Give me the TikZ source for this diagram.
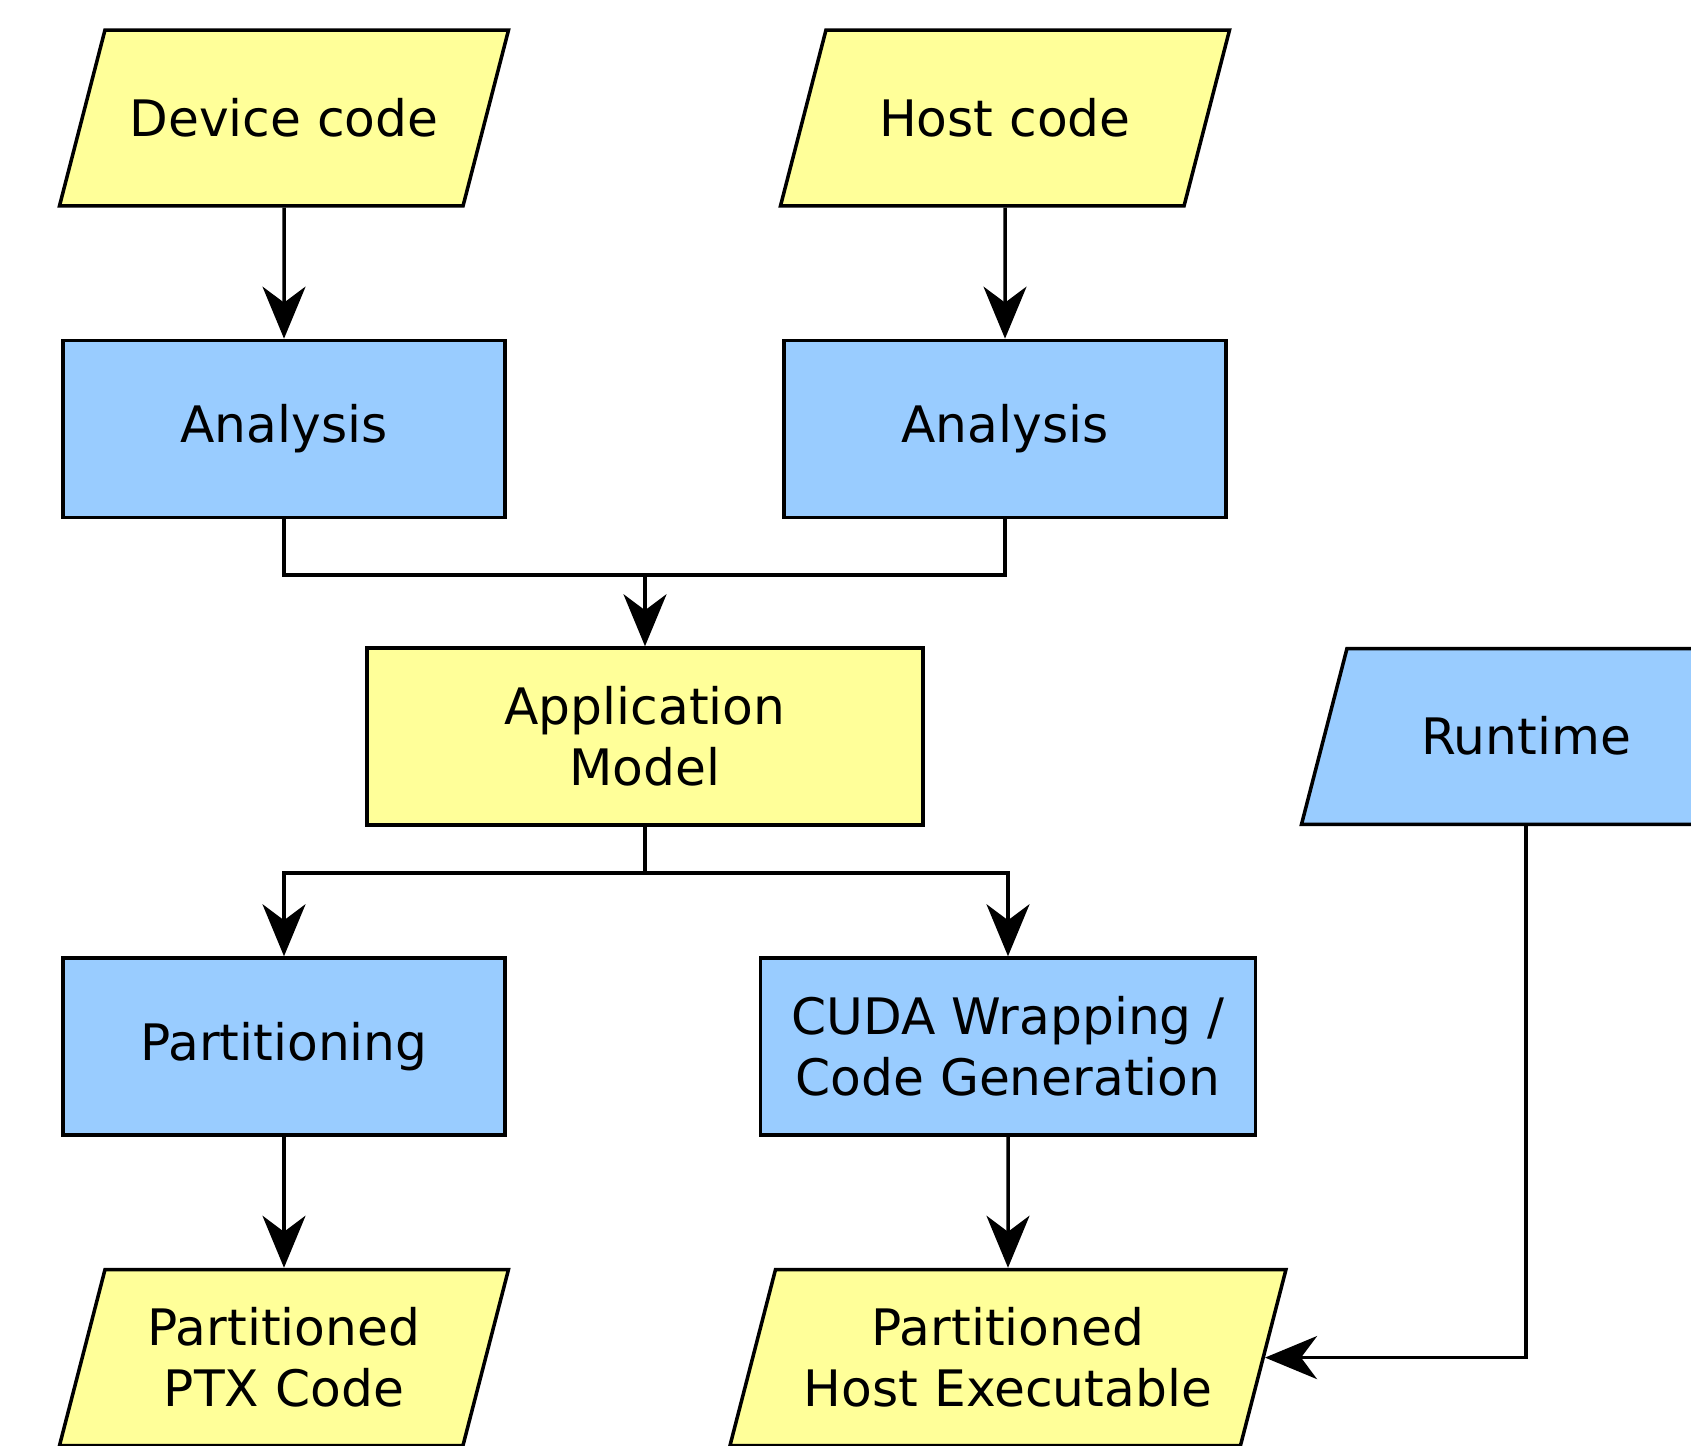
\documentclass[tikz,border=0pt]{standalone}
\usepackage{fontspec}
\setmainfont{DejaVu Sans}
\usepackage{tikz}
\usetikzlibrary{arrows.meta,positioning,shapes.geometric}
\definecolor{datafill}{HTML}{FFFF99}
\definecolor{procfill}{HTML}{99CCFF}
\tikzset{
  boxfont/.style={font=\fontsize{14.3}{17.5}\selectfont},
  datain/.style={trapezium,trapezium left angle=75.5,trapezium right angle=104.5,trapezium stretches body=true,draw=black,line width=1pt,fill=datafill,minimum width=4.49cm,text height=10.4pt,text depth=0pt,inner ysep=19.8pt,inner xsep=2pt,align=center,boxfont},
  twolines/.style={text height=27.9pt,inner ysep=11.1pt},
  procbox/.style={rectangle,draw=black,line width=1pt,fill=procfill,minimum width=4.42cm,minimum height=1.77cm,align=center,inner sep=2pt,boxfont},
  modelbox/.style={procbox,fill=datafill,minimum width=5.56cm},
  link/.style={draw=black,line width=1pt},
  arr/.style={link,-{Stealth[length=5.2mm,width=4.3mm,inset=1.6mm]}},
}
\begin{document}
\begin{tikzpicture}[node distance=1.31cm and 2cm]
  \clip (0,0) rectangle (16.91,-14.46);
  % inputs
  \node[datain] (devcode) at (2.84,-1.18) {Device code};
  \node[datain] (hostcode) at (10.05,-1.18) {Host code};
  \node[procbox,below=of devcode] (devana) {Analysis};
  \node[procbox,below=of hostcode] (hostana) {Analysis};
  \node[modelbox] (appmodel) at (6.45,-7.365) {Application\\Model};
  \node[datain,fill=procfill] (runtime) at (15.26,-7.365) {Runtime};
  % back end
  \node[procbox] (partition) at (2.84,-10.465) {Partitioning};
  \node[procbox,minimum width=4.95cm] (cudagen) at (10.08,-10.465) {CUDA Wrapping /\\Code Generation};
  \node[datain,twolines,below=of partition] (ptxcode) {Partitioned\\PTX Code};
  \node[datain,twolines,minimum width=5.56cm,below=of cudagen] (hostexe) {Partitioned\\Host Executable};
  \coordinate[above=0.71cm of appmodel] (join);
  \coordinate[below=0.46cm of appmodel] (fork);
  \draw[arr] (devcode) -- (devana);
  \draw[arr] (hostcode) -- (hostana);
  \draw[link] (devana.south) |- (join) -| (hostana.south);
  \draw[arr] (join) -- (appmodel);
  \draw[link] (appmodel) -- (fork);
  \draw[arr] (fork) -| (partition.north);
  \draw[arr] (fork) -| (cudagen.north);
  \draw[arr] (partition) -- (ptxcode);
  \draw[arr] (cudagen) -- (hostexe);
  \draw[arr] (runtime.south) |- (hostexe.east);
\end{tikzpicture}
\end{document}
